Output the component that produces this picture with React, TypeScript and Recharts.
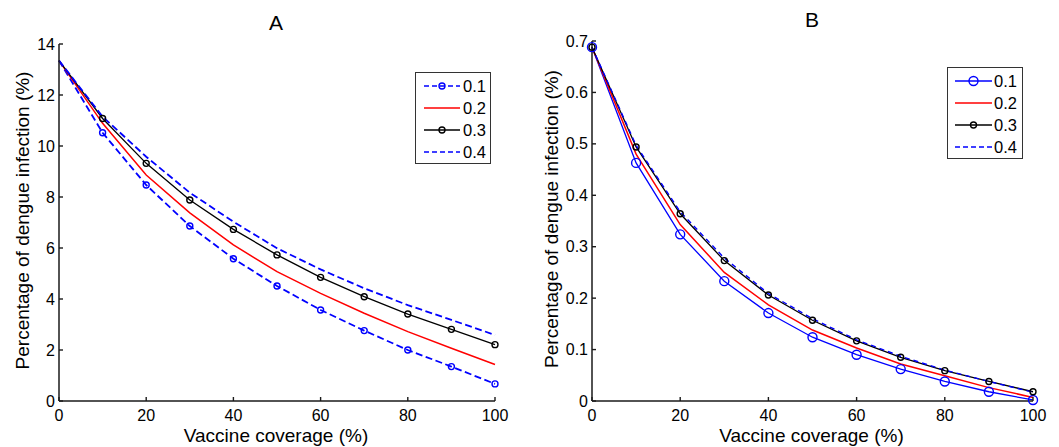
import React from 'react';
import { LineChart, Line, XAxis, YAxis, Legend, Label } from 'recharts';

const coverage = [0, 10, 20, 30, 40, 50, 60, 70, 80, 90, 100];
const seriesNames = ['0.1', '0.2', '0.3', '0.4'];

// panel A
const a01 = [13.35, 10.52, 8.47, 6.86, 5.58, 4.51, 3.57, 2.76, 2.0, 1.35, 0.67];
const a02 = [13.35, 10.89, 8.86, 7.38, 6.12, 5.07, 4.22, 3.44, 2.72, 2.07, 1.43];
const a03 = [13.35, 11.08, 9.32, 7.88, 6.73, 5.73, 4.85, 4.09, 3.41, 2.81, 2.21];
const a04 = [13.35, 11.15, 9.58, 8.17, 7.03, 5.99, 5.16, 4.42, 3.76, 3.18, 2.59];
const aTicks = [0, 2, 4, 6, 8, 10, 12, 14];

// panel B
const b01 = [0.688, 0.463, 0.324, 0.233, 0.171, 0.124, 0.09, 0.062, 0.038, 0.018, 0.002];
const b02 = [0.688, 0.48, 0.343, 0.25, 0.187, 0.138, 0.103, 0.072, 0.049, 0.026, 0.007];
const b03 = [0.688, 0.494, 0.364, 0.273, 0.206, 0.157, 0.117, 0.085, 0.059, 0.038, 0.018];
const b04 = [0.688, 0.497, 0.368, 0.278, 0.209, 0.16, 0.119, 0.087, 0.06, 0.038, 0.017];
const bTicks = [0, 0.1, 0.2, 0.3, 0.4, 0.5, 0.6, 0.7];

const xTicks = [0, 20, 40, 60, 80, 100];

const FONT = "'Liberation Sans', Arial, sans-serif";
const BLUE = '#0000ff';
const RED = '#ff0000';
const BLACK = '#000000';
const AXIS = '#1a1a1a';

const toRows = (s1: number[], s2: number[], s3: number[], s4: number[]) =>
  coverage.map((c, i) => ({ coverage: c, s1: s1[i], s2: s2[i], s3: s3[i], s4: s4[i] }));

const dataA = toRows(a01, a02, a03, a04);
const dataB = toRows(b01, b02, b03, b04);

function XTick(props: any) {
  const { x, y, payload } = props;
  return (
    <g>
      <line x1={x} x2={x} y1={y} y2={y - 4} stroke={AXIS} strokeWidth={1.4} />
      <text x={x} y={y + 14} textAnchor="middle" dominantBaseline="central" fontSize={16} fontFamily={FONT} fill="#000">
        {payload.value}
      </text>
    </g>
  );
}

function YTick(props: any) {
  const { x, y, payload } = props;
  return (
    <g>
      <line x1={x} x2={x + 4} y1={y} y2={y} stroke={AXIS} strokeWidth={1.4} />
      <text x={x - 4} y={y} textAnchor="end" dominantBaseline="central" fontSize={16} fontFamily={FONT} fill="#000">
        {payload.value}
      </text>
    </g>
  );
}

const circleDot = (color: string, r: number, skipFirst: boolean) => (p: any) => {
  if (skipFirst && p.index === 0) return <g key={`d-${p.index}`} />;
  return <circle key={`d-${p.index}`} cx={p.cx} cy={p.cy} r={r} fill="none" stroke={color} strokeWidth={1.4} />;
};

type Sample = { color: string; dash?: string; r?: number; width: number };

function LegendBox({ samples, lineX, textX }: { samples: Sample[]; lineX: [number, number]; textX: number }) {
  const rows = [13, 35, 57, 79];
  return (
    <svg width={76} height={92} style={{ display: 'block', background: '#fff', border: '1px solid #333', boxSizing: 'border-box' }}>
      {samples.map((s, i) => (
        <g key={i}>
          <line x1={lineX[0]} x2={lineX[1]} y1={rows[i]} y2={rows[i]} stroke={s.color} strokeWidth={s.width} strokeDasharray={s.dash} />
          {s.r ? <circle cx={(lineX[0] + lineX[1]) / 2} cy={rows[i]} r={s.r} fill="none" stroke={s.color} strokeWidth={1.4} /> : null}
          <text x={textX} y={rows[i]} dominantBaseline="central" fontSize={16.5} fontFamily={FONT} fill="#000">
            {seriesNames[i]}
          </text>
        </g>
      ))}
    </svg>
  );
}

function yLabel(cxOffset: number) {
  return (p: any) => {
    const vb = p.viewBox || {};
    const cx = (vb.x ?? 0) + cxOffset;
    const cy = (vb.y ?? 0) + (vb.height ?? 0) / 2 - 2;
    return (
      <text x={cx} y={cy} transform={`rotate(-90 ${cx} ${cy})`} textAnchor="middle" dominantBaseline="central" fontSize={19} fontFamily={FONT} fill="#000">
        Percentage of dengue infection (%)
      </text>
    );
  };
}

const xLabel = (p: any) => {
  const vb = p.viewBox || {};
  const cx = (vb.x ?? 0) + (vb.width ?? 0) / 2 - 1;
  const cy = (vb.y ?? 0) + 34;
  return (
    <text x={cx} y={cy} textAnchor="middle" dominantBaseline="central" fontSize={19} fontFamily={FONT} fill="#000">
      Vaccine coverage (%)
    </text>
  );
};

export default function App() {
  const legendA: Sample[] = [
    { color: BLUE, dash: '5 3', r: 3, width: 1.6 },
    { color: RED, width: 1.5 },
    { color: BLACK, r: 3, width: 1.3 },
    { color: BLUE, dash: '5 3', width: 1.6 },
  ];
  const legendB: Sample[] = [
    { color: BLUE, r: 4.5, width: 1.3 },
    { color: RED, width: 1.5 },
    { color: BLACK, r: 3, width: 1.3 },
    { color: BLUE, dash: '5 3', width: 1.4 },
  ];

  return (
    <div style={{ position: 'absolute', left: 0, top: 0, width: 1059, height: 447, background: '#fff' }}>
      <div style={{ position: 'absolute', left: 0, top: 0 }}>
        <LineChart width={530} height={447} data={dataA} margin={{ top: 44, right: 35, bottom: 0, left: 0 }}>
          <XAxis
            dataKey="coverage"
            type="number"
            domain={[0, 100]}
            ticks={xTicks}
            height={46}
            tickSize={0}
            tickMargin={0}
            tick={<XTick />}
            axisLine={{ stroke: AXIS, strokeWidth: 1.5 }}
          >
            <Label content={xLabel} />
          </XAxis>
          <YAxis
            type="number"
            domain={[0, 14]}
            ticks={aTicks}
            width={59}
            tickSize={0}
            tickMargin={0}
            tick={<YTick />}
            axisLine={{ stroke: AXIS, strokeWidth: 1.5 }}
          >
            <Label content={yLabel(22)} />
          </YAxis>
          <text x={276} y={22} textAnchor="middle" dominantBaseline="central" fontSize={21} fontFamily={FONT} fill="#000">
            A
          </text>
          <Line dataKey="s1" type="linear" stroke={BLUE} strokeWidth={1.8} strokeDasharray="7 3.5" dot={circleDot(BLUE, 3, true)} isAnimationActive={false} />
          <Line dataKey="s2" type="linear" stroke={RED} strokeWidth={1.5} dot={false} isAnimationActive={false} />
          <Line dataKey="s3" type="linear" stroke={BLACK} strokeWidth={1.3} dot={circleDot(BLACK, 3, true)} isAnimationActive={false} />
          <Line dataKey="s4" type="linear" stroke={BLUE} strokeWidth={1.8} strokeDasharray="7 3.5" dot={false} isAnimationActive={false} />
          <Legend
            layout="vertical"
            align="center"
            verticalAlign="middle"
            wrapperStyle={{ left: 415, top: 72, width: 76, height: 92 }}
            content={() => <LegendBox samples={legendA} lineX={[8, 44]} textX={47} />}
          />
        </LineChart>
      </div>
      <div style={{ position: 'absolute', left: 530, top: 0 }}>
        <LineChart width={529} height={447} data={dataB} margin={{ top: 41, right: 26, bottom: 0, left: 0 }}>
          <XAxis
            dataKey="coverage"
            type="number"
            domain={[0, 100]}
            ticks={xTicks}
            height={46}
            tickSize={0}
            tickMargin={0}
            tick={<XTick />}
            axisLine={{ stroke: AXIS, strokeWidth: 1.5 }}
          >
            <Label content={xLabel} />
          </XAxis>
          <YAxis
            type="number"
            domain={[0, 0.7]}
            ticks={bTicks}
            width={62}
            tickSize={0}
            tickMargin={0}
            tick={<YTick />}
            axisLine={{ stroke: AXIS, strokeWidth: 1.5 }}
          >
            <Label content={yLabel(21)} />
          </YAxis>
          <text x={282} y={19.5} textAnchor="middle" dominantBaseline="central" fontSize={21} fontFamily={FONT} fill="#000">
            B
          </text>
          <Line dataKey="s1" type="linear" stroke={BLUE} strokeWidth={1.3} dot={circleDot(BLUE, 4.5, false)} isAnimationActive={false} />
          <Line dataKey="s2" type="linear" stroke={RED} strokeWidth={1.5} dot={false} isAnimationActive={false} />
          <Line dataKey="s3" type="linear" stroke={BLACK} strokeWidth={1.3} dot={circleDot(BLACK, 3, false)} isAnimationActive={false} />
          <Line dataKey="s4" type="linear" stroke={BLUE} strokeWidth={1.4} strokeDasharray="5 4" dot={false} isAnimationActive={false} />
          <Legend
            layout="vertical"
            align="center"
            verticalAlign="middle"
            wrapperStyle={{ left: 417, top: 67, width: 76, height: 92 }}
            content={() => <LegendBox samples={legendB} lineX={[7, 44]} textX={46} />}
          />
        </LineChart>
      </div>
    </div>
  );
}
